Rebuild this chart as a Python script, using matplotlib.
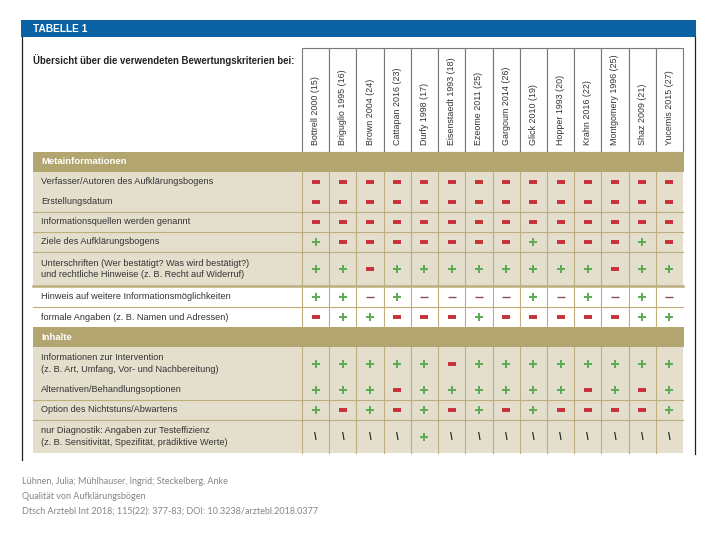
import matplotlib.pyplot as plt
from matplotlib.patches import Rectangle

plt.rcParams['font.family'] = ['Liberation Sans', 'DejaVu Sans']

studies = ["Bottrell 2000 (15)", "Briguglio 1995 (16)", "Brown 2004 (24)",
           "Cattapan 2016 (23)", "Durfy 1998 (17)", "Eisenstaedt 1993 (18)",
           "Ezeome 2011 (25)", "Gargoum 2014 (26)", "Glick 2010 (19)",
           "Hopper 1993 (20)", "Krahn 2016 (22)", "Montgomery 1996 (25)",
           "Shaz 2009 (21)", "Yucemis 2015 (27)"]

meta_labels = ["Verfasser/Autoren des Aufklärungsbogens",
               "Erstellungsdatum",
               "Informationsquellen werden genannt",
               "Ziele des Aufklärungsbogens",
               "Unterschriften (Wer bestätigt? Was wird bestätigt?)\nund rechtliche Hinweise (z. B. Recht auf Widerruf)",
               "Hinweis auf weitere Informationsmöglichkeiten",
               "formale Angaben (z. B. Namen und Adressen)"]
meta_values = ["--------------",
               "--------------",
               "--------------",
               "+-------+---+-",
               "++-++++++++-++",
               "++-+----+-+-+-",
               "-++---+-----++"]

content_labels = ["Informationen zur Intervention\n(z. B. Art, Umfang, Vor- und Nachbereitung)",
                  "Alternativen/Behandlungsoptionen",
                  "Option des Nichtstuns/Abwartens",
                  "nur Diagnostik: Angaben zur Testeffizienz\n(z. B. Sensitivität, Spezifität, prädiktive Werte)"]
content_values = ["+++++-++++++++",
                  "+++-++++++-+-+",
                  "+-+-+-+-+----+",
                  "\\\\\\\\+\\\\\\\\\\\\\\\\\\"]

footer = ["Lühnen, Julia; Mühlhauser, Ingrid; Steckelberg, Anke",
          "Qualität von Aufklärungsbögen",
          "Dtsch Arztebl Int 2018; 115(22): 377-83; DOI: 10.3238/arztebl.2018.0377"]

BLUE = "#0b63a5"
BAND = "#b2a56f"
BEIGE = "#e4dfcd"
GRID = "#bdae7c"
RED = "#c9303a"
GREEN = "#5daa55"
TXT = "#333333"

fig = plt.figure(figsize=(7.2, 5.4), dpi=100)
ax = fig.add_axes([0, 0, 1, 1])
ax.set_xlim(0, 720)
ax.set_ylim(540, 0)
ax.axis('off')

left, right = 33, 683
col0 = 302
colw = (right - col0) / len(studies)
xs = [col0 + (j + 0.5) * colw for j in range(len(studies))]

# title bar and frame
ax.add_patch(Rectangle((21, 20), 675, 17, color=BLUE, lw=0))
ax.text(33, 29, "TABELLE 1", color="white", fontsize=7.3, fontweight="bold", va="center")
ax.plot([22, 22], [37, 460], color="#222222", lw=0.9)
ax.plot([695, 695], [37, 454], color="#222222", lw=0.9)
ax.text(33, 60, "Übersicht über die verwendeten Bewertungskriterien bei:",
        fontsize=6.9, fontweight="bold", color="#222222", va="center")

# column header boxes
for j, name in enumerate(studies):
    ax.add_patch(Rectangle((col0 + j * colw, 48), colw, 104, facecolor="white",
                           edgecolor="#777777", lw=0.8))
    ax.text(xs[j], 145, name, rotation=90, ha="center", va="bottom",
            fontsize=6.4, color=TXT)


def draw_marks(y, vals, thin=False):
    for x, v in zip(xs, vals):
        if v == "+":
            ax.plot(x, y, marker="+", ms=6, mew=1.4, color=GREEN)
        elif v == "-":
            if thin:
                ax.plot(x, y, marker="_", ms=5.5, mew=1.0, color="#8a5055")
            else:
                ax.plot(x, y, marker="_", ms=6, mew=2.8, color=RED)
        else:
            ax.text(x, y, "\\", ha="center", va="center", fontsize=7,
                    fontweight="bold", color="#222222")


def draw_section(top, title, labels, values, heights, fills, no_line_after):
    ax.add_patch(Rectangle((left, top), right - left + 0.5, 20, color=BAND, lw=0))
    ax.text(41, top + 10, title, color="white", fontsize=6.8, fontweight="bold", va="center")
    y = top + 20
    body_top = y
    for i, (lab, vals, h, fc) in enumerate(zip(labels, values, heights, fills)):
        ax.add_patch(Rectangle((left, y), right - left, h, color=fc, lw=0))
        ax.text(41, y + h / 2, lab, fontsize=6.6, color=TXT, va="center", linespacing=1.35)
        draw_marks(y + h / 2, vals, thin=(i == 5 and fc == "white"))
        y += h
        if i not in no_line_after and i < len(labels) - 1:
            lw = 1.8 if fills[i] != fills[i + 1] else 0.8
            ax.plot([left, right], [y, y], color=GRID, lw=lw)
    for j in range(len(studies)):
        xl = col0 + j * colw
        ax.plot([xl, xl], [body_top, y], color=GRID, lw=0.8)
    return y


meta_heights = [20, 20, 20, 20, 34, 21, 20]
meta_fills = [BEIGE] * 5 + ["white"] * 2
end = draw_section(152, "Metainformationen", meta_labels, meta_values,
                   meta_heights, meta_fills, {0})

content_heights = [33, 20, 20, 33]
end = draw_section(end, "Inhalte", content_labels, content_values,
                   content_heights, [BEIGE] * 4, {0})

for k, line in enumerate(footer):
    ax.text(22, 482 + k * 14.5, line, fontsize=6.5, color="#858585",
            va="center", family=["Lato", "DejaVu Sans"])

fig.savefig("out.png", dpi=100)
